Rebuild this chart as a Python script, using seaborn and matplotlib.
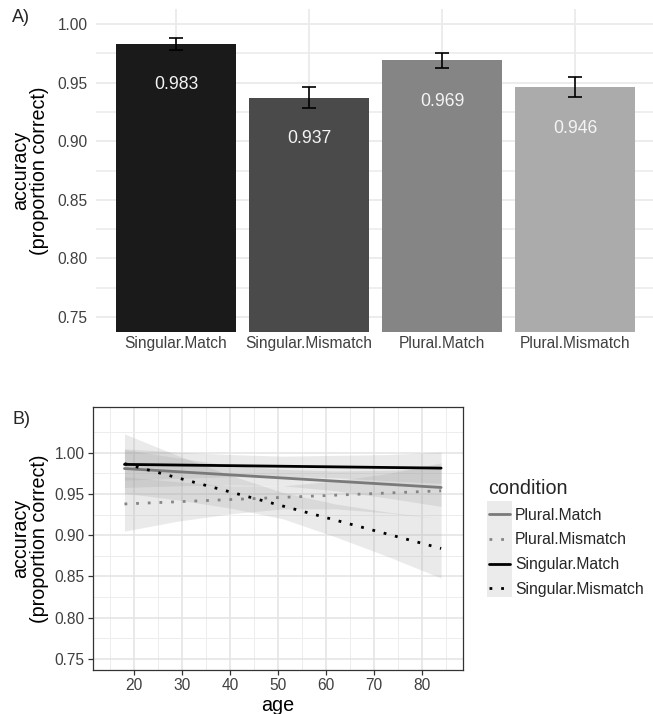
import matplotlib
matplotlib.use("Agg")
import matplotlib.pyplot as plt
from matplotlib.lines import Line2D
from matplotlib.patches import Rectangle
from matplotlib.ticker import FixedLocator
import seaborn as sns
import pandas as pd
import numpy as np

# ---- data: panel A (mean accuracy by condition) ----
conditions = ["Singular.Match", "Singular.Mismatch", "Plural.Match", "Plural.Mismatch"]
accuracy = [0.983, 0.937, 0.969, 0.946]
acc_se = [0.005, 0.009, 0.0065, 0.0085]
bar_colors = ["#1a1a1a", "#4a4a4a", "#858585", "#ababab"]

# ---- data: panel B (linear fits of accuracy on age, with 95% bands) ----
legend_order = ["Plural.Match", "Plural.Mismatch", "Singular.Match", "Singular.Mismatch"]
fit_ages = [18, 84]
fit_plural_match = [0.981, 0.958]
fit_plural_mismatch = [0.938, 0.954]
fit_singular_match = [0.986, 0.9815]
fit_singular_mismatch = [0.987, 0.884]

band_ages = [18, 29, 40, 51, 62, 73, 84]
lo_plural_match = [0.958, 0.960, 0.961, 0.960, 0.954, 0.945, 0.935]
hi_plural_match = [1.004, 0.994, 0.985, 0.980, 0.978, 0.979, 0.981]
lo_plural_mismatch = [0.905, 0.917, 0.926, 0.932, 0.932, 0.927, 0.920]
hi_plural_mismatch = [0.971, 0.965, 0.960, 0.960, 0.966, 0.975, 0.988]
lo_singular_match = [0.967, 0.969, 0.971, 0.971, 0.970, 0.966, 0.963]
hi_singular_match = [1.005, 1.001, 0.998, 0.996, 0.997, 0.998, 1.001]
lo_singular_mismatch = [0.951, 0.943, 0.933, 0.920, 0.898, 0.874, 0.848]
hi_singular_mismatch = [1.023, 0.997, 0.973, 0.952, 0.938, 0.928, 0.920]

line_colors = {"Plural.Match": "#7a7a7a", "Plural.Mismatch": "#858585",
               "Singular.Match": "#000000", "Singular.Mismatch": "#000000"}
line_dashes = {"Plural.Match": "", "Plural.Mismatch": (1, 3.2),
               "Singular.Match": "", "Singular.Mismatch": (1, 3.2)}

sns.set_theme(style="white")
plt.rcParams["font.family"] = ["Liberation Sans", "DejaVu Sans"]

W, H = 653, 714
fig = plt.figure(figsize=(W / 100, H / 100), dpi=100)
fig.patch.set_facecolor("white")

def box(l, t, r, b):
    return [l / W, 1 - b / H, (r - l) / W, (b - t) / H]

tick_color = "#404040"

# ================= Panel A =================
axA = fig.add_axes(box(96.2, 9, 653, 332.3))
dfA = pd.DataFrame({"condition": conditions, "accuracy": accuracy})
sns.barplot(data=dfA, x="condition", y="accuracy", hue="condition",
            palette=dict(zip(conditions, bar_colors)), order=conditions,
            width=0.9, errorbar=None, legend=False, ax=axA, zorder=2,
            edgecolor="none")
xpos = np.arange(len(conditions))
axA.errorbar(xpos, accuracy, yerr=acc_se, fmt="none", ecolor="black",
             elinewidth=1.2, capsize=4.8, capthick=1.2, zorder=3)
for x, v in zip(xpos, accuracy):
    axA.text(x, v - 0.035, f"{v:.3f}", ha="center", va="center",
             color="#f4f4f4", fontsize=12.7, zorder=4)

axA.set_xlim(-0.6, (653 - 176) / 133)
axA.set_ylim(0.7370, 1.0128)
yt = [0.75, 0.80, 0.85, 0.90, 0.95, 1.00]
axA.yaxis.set_major_locator(FixedLocator(yt))
axA.yaxis.set_minor_locator(FixedLocator([0.775, 0.825, 0.875, 0.925, 0.975]))
axA.set_yticklabels([f"{v:.2f}" for v in yt])
axA.grid(True, which="major", axis="both", color="#ebebeb", lw=1.3, zorder=0)
axA.grid(True, which="minor", axis="y", color="#ebebeb", lw=1.1, zorder=0)
axA.set_axisbelow(True)
for s in axA.spines.values():
    s.set_visible(False)
axA.tick_params(axis="both", which="both", length=0, labelsize=11.2,
                labelcolor=tick_color)
axA.tick_params(axis="y", pad=6)
axA.tick_params(axis="x", pad=3)
axA.set_xlabel("")
axA.set_ylabel("accuracy\n(proportion correct)", fontsize=14.2, color="black",
               linespacing=1.0, labelpad=6)

fig.text(12 / W, 1 - 18 / H, "A)", fontsize=13, va="center", ha="left")

# ================= Panel B =================
axB = fig.add_axes(box(93.3, 407.3, 462.7, 670))
bands = {
    "Plural.Match": (lo_plural_match, hi_plural_match),
    "Plural.Mismatch": (lo_plural_mismatch, hi_plural_mismatch),
    "Singular.Match": (lo_singular_match, hi_singular_match),
    "Singular.Mismatch": (lo_singular_mismatch, hi_singular_mismatch),
}
for cond in legend_order:
    lo, hi = bands[cond]
    axB.fill_between(band_ages, lo, hi, color="#999999", alpha=0.2, lw=0,
                     zorder=2)

fits = {
    "Plural.Match": fit_plural_match,
    "Plural.Mismatch": fit_plural_mismatch,
    "Singular.Match": fit_singular_match,
    "Singular.Mismatch": fit_singular_mismatch,
}
dfB = pd.DataFrame([
    {"age": a, "accuracy": v, "condition": c}
    for c in legend_order for a, v in zip(fit_ages, fits[c])
])
sns.lineplot(data=dfB, x="age", y="accuracy", hue="condition", style="condition",
             hue_order=legend_order, style_order=legend_order,
             palette=line_colors, dashes=line_dashes, linewidth=2.0,
             legend=False, ax=axB, zorder=3)

axB.set_xlim(11.5, 88.5)
axB.set_ylim(0.7365, 1.0553)
axB.xaxis.set_major_locator(FixedLocator([20, 30, 40, 50, 60, 70, 80]))
axB.xaxis.set_minor_locator(FixedLocator([15, 25, 35, 45, 55, 65, 75, 85]))
axB.yaxis.set_major_locator(FixedLocator(yt))
axB.yaxis.set_minor_locator(FixedLocator([0.775, 0.825, 0.875, 0.925, 0.975, 1.025]))
axB.set_yticklabels([f"{v:.2f}" for v in yt])
axB.grid(True, which="major", color="#e3e3e3", lw=1.1, zorder=0)
axB.grid(True, which="minor", color="#ededed", lw=0.7, zorder=0)
axB.set_axisbelow(True)
for s in axB.spines.values():
    s.set_visible(True)
    s.set_color("#333333")
    s.set_linewidth(0.9)
axB.tick_params(axis="both", which="major", length=3.6, width=0.9,
                color="#333333", labelsize=11.2, labelcolor=tick_color,
                pad=2.5, left=True, bottom=True)
axB.tick_params(axis="both", which="minor", length=0)
axB.set_xlabel("age", fontsize=14.2, color="black", labelpad=2)
axB.set_ylabel("accuracy\n(proportion correct)", fontsize=14.2, color="black",
               linespacing=1.0, labelpad=4)

fig.text(12 / W, 1 - 419 / H, "B)", fontsize=13, va="center", ha="left")

# legend for panel B
handles = []
for c in legend_order:
    h = Line2D([], [], color=line_colors[c], lw=2.0, linestyle="-")
    if line_dashes[c]:
        h.set_dashes(line_dashes[c])
    handles.append(h)
fig.add_artist(Rectangle((486.7 / W, 1 - 596.7 / H), 25.6 / W, 96 / H,
                         transform=fig.transFigure, facecolor="#ebebeb",
                         edgecolor="none", zorder=1))
leg = fig.legend(handles, legend_order, title="condition", loc="upper left",
                 bbox_to_anchor=(488.5 / W, 1 - 479 / H), frameon=False,
                 fontsize=11.3, title_fontsize=14.2, handlelength=1.38,
                 handletextpad=0.3, labelspacing=0.62, borderpad=0,
                 borderaxespad=0, alignment="left")
leg.set_zorder(5)

fig.savefig("out.png", dpi=100, facecolor="white")
